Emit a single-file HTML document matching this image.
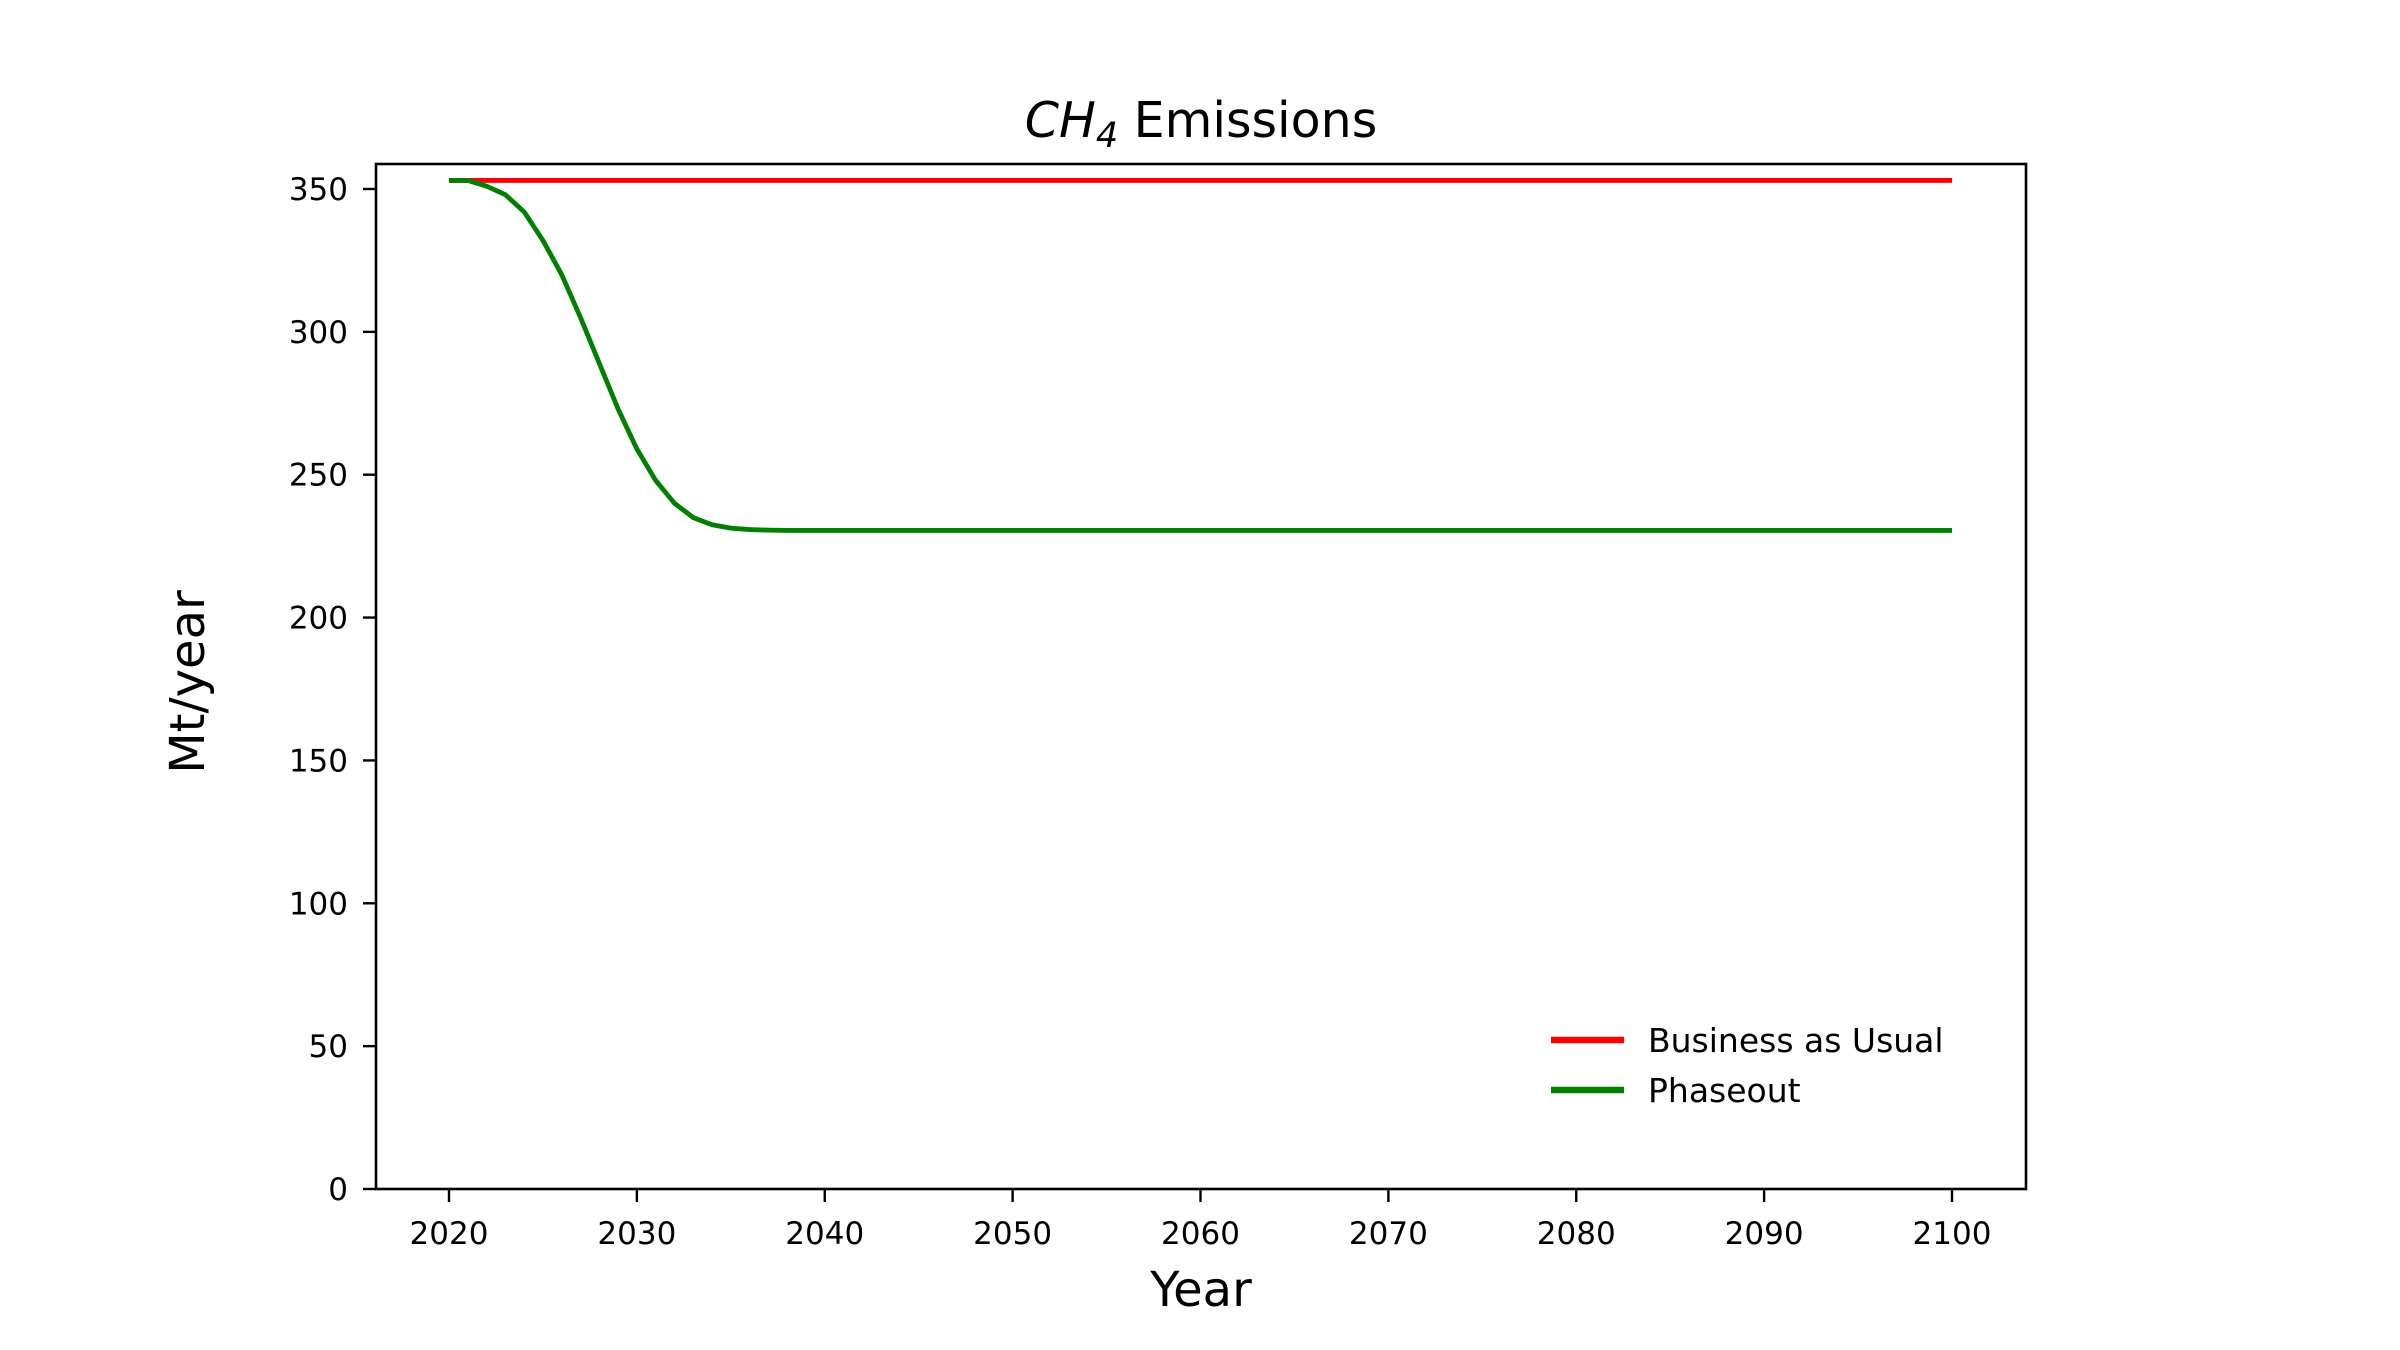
<!DOCTYPE html>
<html><head><meta charset="utf-8"><style>
html,body{margin:0;padding:0;background:#fff;}
svg{display:block;font-family:"DejaVu Sans","Liberation Sans",sans-serif;}
</style></head><body>
<svg id="chart" width="2400" height="1350" viewBox="0 0 2400 1350">
<rect width="2400" height="1350" fill="#fff"/>
<g id="marks"></g>
<rect x="376" y="164" width="1650" height="1025" fill="none" stroke="#000" stroke-width="2.6"/>
<g id="xticks"></g><g id="yticks"></g>
<text x="1201" y="137" font-size="49" text-anchor="middle"><tspan font-style="italic">CH</tspan><tspan font-style="italic" font-size="35" dy="10">4</tspan><tspan dy="-10"> Emissions</tspan></text>
<text x="1201" y="1306" font-size="48" text-anchor="middle">Year</text>
<text x="0" y="0" font-size="48" text-anchor="middle" transform="translate(204,682) rotate(-90)">Mt/year</text>
<g>
<line x1="1551" y1="1040" x2="1624" y2="1040" stroke="#ff0000" stroke-width="6.5"/>
<text x="1648" y="1052" font-size="33">Business as Usual</text>
<line x1="1551" y1="1090" x2="1624" y2="1090" stroke="#008000" stroke-width="6.5"/>
<text x="1648" y="1102" font-size="33">Phaseout</text>
</g>
</svg>
<script>
const bauYears = [2020, 2100];
const bauValues = [353, 353];
const phaseYears = [2020,2021,2022,2023,2024,2025,2026,2027,2028,2029,2030,2031,2032,2033,2034,2035,2036,2037,2038,2040,2100];
const phaseValues = [353,353,351,348,342,332,320,305,289,273,259,248,240,235,232.5,231.3,230.8,230.6,230.5,230.5,230.5];
const xTickLabels = [2020,2030,2040,2050,2060,2070,2080,2090,2100];
const yTickLabels = [0,50,100,150,200,250,300,350];

const NS="http://www.w3.org/2000/svg";
function xs(v){return 449+(v-2020)*(1952-449)/80;}
function ys(v){return 1189-v*(1189-189)/350;}
const marks=document.getElementById('marks');
function line(xa,ya,color,name){
  const p=document.createElementNS(NS,'polyline');
  p.setAttribute('points',xa.map((x,i)=>xs(x)+','+ys(ya[i])).join(' '));
  p.setAttribute('fill','none');p.setAttribute('stroke',color);p.setAttribute('stroke-width','4.8');
  p.setAttribute('stroke-linejoin','round');
  
  
  marks.appendChild(p);
}
line(bauYears,bauValues,'#ff0000','bau-line');
line(phaseYears,phaseValues,'#008000','phaseout-line');
const xt=document.getElementById('xticks');
xTickLabels.forEach(v=>{
  const l=document.createElementNS(NS,'line');
  l.setAttribute('x1',xs(v));l.setAttribute('x2',xs(v));l.setAttribute('y1',1189);l.setAttribute('y2',1202);
  l.setAttribute('stroke','#000');l.setAttribute('stroke-width','2.4');
  
  
  xt.appendChild(l);
  const t=document.createElementNS(NS,'text');
  t.setAttribute('x',xs(v));t.setAttribute('y',1244);t.setAttribute('font-size','31');t.setAttribute('text-anchor','middle');
  t.textContent=v;
  
  
  xt.appendChild(t);
});
const yt=document.getElementById('yticks');
yTickLabels.forEach(v=>{
  const l=document.createElementNS(NS,'line');
  l.setAttribute('x1',363);l.setAttribute('x2',376);l.setAttribute('y1',ys(v));l.setAttribute('y2',ys(v));
  l.setAttribute('stroke','#000');l.setAttribute('stroke-width','2.4');
  
  
  yt.appendChild(l);
  const t=document.createElementNS(NS,'text');
  t.setAttribute('x',348);t.setAttribute('y',ys(v)+11);t.setAttribute('font-size','31');t.setAttribute('text-anchor','end');
  t.textContent=v;
  
  
  yt.appendChild(t);
});
</script>
</body></html>
